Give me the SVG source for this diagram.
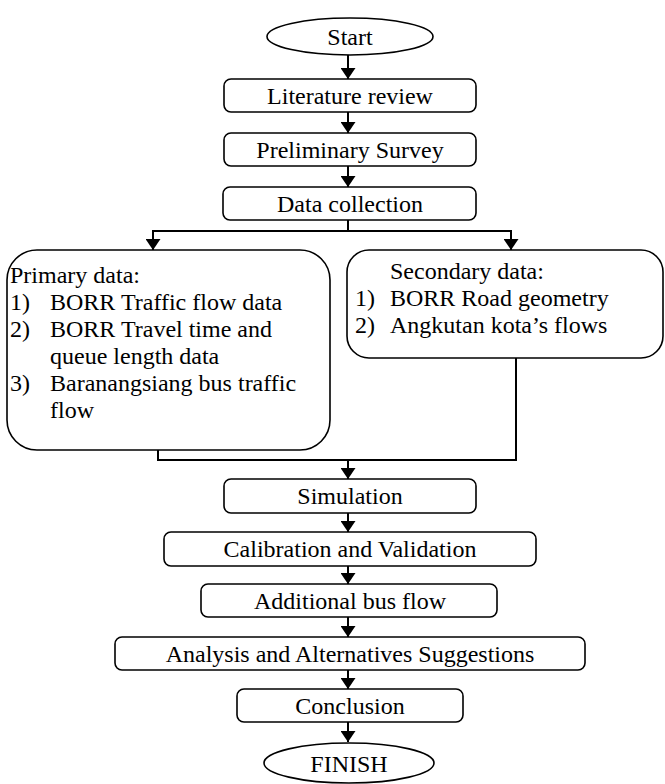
<svg xmlns="http://www.w3.org/2000/svg" width="665" height="784" viewBox="0 0 665 784">
<defs>
<style>
.box{fill:#fff;stroke:#000;stroke-width:1.6}
.t{font-family:'Liberation Serif','Times New Roman','DejaVu Serif',serif;font-size:24px;fill:#000}
.c{text-anchor:middle}
.ln{fill:none;stroke:#000;stroke-width:2}
</style>
<marker id="ah" markerUnits="userSpaceOnUse" markerWidth="12" markerHeight="15" refX="11" refY="7.5" orient="auto">
<path d="M0,0 L11,7.5 L0,15 z" fill="#000"/>
</marker>
</defs>
<rect width="665" height="784" fill="#fff"/>
<g id="connectors">
<line class="ln" x1="348" y1="55" x2="348" y2="79" marker-end="url(#ah)"/>
<line class="ln" x1="348" y1="112" x2="348" y2="133" marker-end="url(#ah)"/>
<line class="ln" x1="348" y1="166" x2="348" y2="187" marker-end="url(#ah)"/>
<polyline class="ln" points="348,220 348,231"/>
<polyline class="ln" points="153,250 153,231 511,231 511,250"/>
<line class="ln" x1="153" y1="231" x2="153" y2="250" marker-end="url(#ah)"/>
<line class="ln" x1="511" y1="231" x2="511" y2="250" marker-end="url(#ah)"/>
<polyline class="ln" points="158,450 158,460 516,460 516,358"/>
<line class="ln" x1="348" y1="460" x2="348" y2="479" marker-end="url(#ah)"/>
<line class="ln" x1="348" y1="513" x2="348" y2="532" marker-end="url(#ah)"/>
<line class="ln" x1="348" y1="566" x2="348" y2="584" marker-end="url(#ah)"/>
<line class="ln" x1="348" y1="617" x2="348" y2="637" marker-end="url(#ah)"/>
<line class="ln" x1="348" y1="670" x2="348" y2="689" marker-end="url(#ah)"/>
<line class="ln" x1="348" y1="722" x2="348" y2="742" marker-end="url(#ah)"/>
</g>
<g font-family="'Liberation Serif', 'Times New Roman', 'DejaVu Serif', serif">
<g id="start">
<ellipse class="box" cx="350" cy="36.5" rx="83" ry="18.5"/>
<text class="t c" x="350" y="45">Start</text>
</g>
<g id="literature">
<rect class="box" x="224" y="79" width="252" height="33" rx="7"/>
<text class="t c" x="350" y="103.5">Literature review</text>
</g>
<g id="preliminary">
<rect class="box" x="224" y="133" width="252" height="33" rx="7"/>
<text class="t c" x="350" y="157.5">Preliminary Survey</text>
</g>
<g id="datacollection">
<rect class="box" x="223" y="187" width="253" height="33" rx="7"/>
<text class="t c" x="350" y="211.5">Data collection</text>
</g>
<g id="primary">
<rect class="box" x="7" y="250" width="323" height="200" rx="30"/>
<text class="t" x="10" y="283">Primary data:</text>
<text class="t" x="10" y="310">1)</text><text class="t" x="50" y="310">BORR Traffic flow data</text>
<text class="t" x="10" y="337">2)</text><text class="t" x="50" y="337">BORR Travel time and</text>
<text class="t" x="50" y="364">queue length data</text>
<text class="t" x="10" y="391">3)</text><text class="t" x="50" y="391">Baranangsiang bus traffic</text>
<text class="t" x="50" y="418">flow</text>
</g>
<g id="secondary">
<rect class="box" x="347" y="250" width="316" height="108" rx="22"/>
<text class="t" x="390" y="279">Secondary data:</text>
<text class="t" x="355" y="306">1)</text><text class="t" x="390" y="306">BORR Road geometry</text>
<text class="t" x="355" y="333">2)</text><text class="t" x="390" y="333">Angkutan kota’s flows</text>
</g>
<g id="simulation">
<rect class="box" x="224" y="479" width="252" height="34" rx="7"/>
<text class="t c" x="350" y="504">Simulation</text>
</g>
<g id="calibration">
<rect class="box" x="164" y="532" width="372" height="34" rx="7"/>
<text class="t c" x="350" y="557">Calibration and Validation</text>
</g>
<g id="additional">
<rect class="box" x="201" y="584" width="296" height="33" rx="7"/>
<text class="t c" x="350" y="608.5">Additional bus flow</text>
</g>
<g id="analysis">
<rect class="box" x="115" y="637" width="470" height="33" rx="7"/>
<text class="t c" x="350" y="661.5">Analysis and Alternatives Suggestions</text>
</g>
<g id="conclusion">
<rect class="box" x="237" y="689" width="226" height="33" rx="7"/>
<text class="t c" x="350" y="713.5">Conclusion</text>
</g>
<g id="finish">
<ellipse class="box" cx="349" cy="763" rx="85" ry="20"/>
<text class="t c" x="349" y="772">FINISH</text>
</g>
</g>
</svg>
